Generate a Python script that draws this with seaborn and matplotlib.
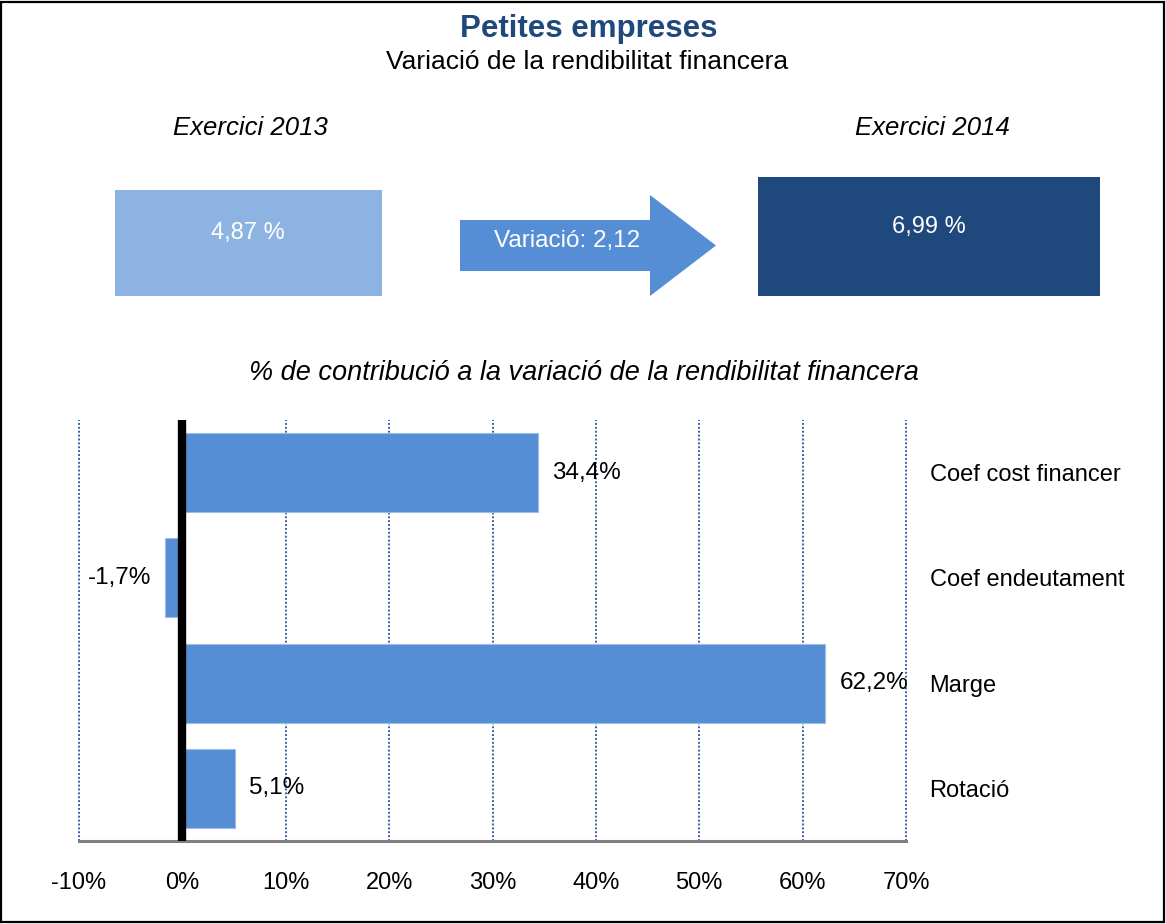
import matplotlib
matplotlib.use("Agg")
import matplotlib.pyplot as plt
from matplotlib.patches import Rectangle, Polygon
import pandas as pd
import seaborn as sns

# 数据
categories = ["Coef cost financer", "Coef endeutament", "Marge", "Rotació"]
contribucio = [34.4, -1.7, 62.2, 5.1]
x_ticks = [-10, 0, 10, 20, 30, 40, 50, 60, 70]
rend_2013 = 4.87
rend_2014 = 6.99
variacio = 2.12

BAR_COLOR = "#558ED5"
LIGHT = "#8DB3E2"
DARK = "#1F497D"
GRID = "#3A64A8"

sns.set_theme(style="white")
plt.rcParams["font.family"] = ["Liberation Sans", "DejaVu Sans"]
plt.rcParams["text.color"] = "black"

W, H = 1166, 924
fig = plt.figure(figsize=(W / 100, H / 100), dpi=100)


def fx(px):
    return px / W


def fy(py):
    return 1 - py / H


# 外框
fig.patches.append(Rectangle((fx(1), fy(922)), fx(1163), 920 / H, transform=fig.transFigure,
                             fill=False, edgecolor="black", linewidth=1.6))

# 标题
fig.text(fx(589), fy(29), "Petites empreses", ha="center", va="center",
         fontsize=22.5, fontweight="bold", color=DARK)
fig.text(fx(587), fy(62), "Variació de la rendibilitat financera", ha="center", va="center",
         fontsize=19, color="black")
fig.text(fx(250), fy(128), "Exercici 2013", ha="center", va="center",
         fontsize=18.5, style="italic")
fig.text(fx(932), fy(128), "Exercici 2014", ha="center", va="center",
         fontsize=18.5, style="italic")

# 两个方框和箭头
fig.patches.append(Rectangle((fx(115), fy(296)), fx(267), 106 / H, transform=fig.transFigure,
                             facecolor=LIGHT, edgecolor="none"))
fig.text(fx(248), fy(233), f"{rend_2013:.2f} %".replace(".", ","), ha="center", va="center",
         fontsize=17, color="white")
fig.patches.append(Rectangle((fx(758), fy(296)), fx(342), 119 / H, transform=fig.transFigure,
                             facecolor=DARK, edgecolor="none"))
fig.text(fx(929), fy(227), f"{rend_2014:.2f} %".replace(".", ","), ha="center", va="center",
         fontsize=17, color="white")
arrow_px = [(460, 220), (650, 220), (650, 195), (716, 245.5), (650, 296), (650, 271), (460, 271)]
fig.patches.append(Polygon([(fx(x), fy(y)) for x, y in arrow_px], closed=True,
                           transform=fig.transFigure, facecolor=BAR_COLOR, edgecolor="none"))
fig.text(fx(567), fy(241), f"Variació: {variacio:.2f}".replace(".", ","), ha="center",
         va="center", fontsize=17.5, color="white")

fig.text(fx(584), fy(373), "% de contribució a la variació de la rendibilitat financera",
         ha="center", va="center", fontsize=19.5, style="italic")

# 条形图
ax = fig.add_axes([fx(79), fy(841), fx(906 - 79), (841 - 420) / H])
df = pd.DataFrame({"cat": categories, "val": contribucio})
sns.barplot(data=df, x="val", y="cat", orient="h", color=BAR_COLOR, saturation=1,
            width=0.75, edgecolor="#9DBCE6", linewidth=0.8, ax=ax, zorder=3)
ax.set_xlim(x_ticks[0], x_ticks[-1])
ax.set_ylim(len(categories) - 0.5, -0.5)
ax.set_xticks(x_ticks)
ax.set_xticklabels([f"{t}%" for t in x_ticks])
ax.grid(axis="x", linestyle=(0, (1, 1)), color=GRID, linewidth=1.4)
for gl in ax.get_xgridlines():
    gl.set_clip_on(False)
ax.axvline(0, color="black", linewidth=6, zorder=4)

for s in ["top", "left", "right"]:
    ax.spines[s].set_visible(False)
ax.spines["bottom"].set_color("#808080")
ax.spines["bottom"].set_linewidth(2.2)

ax.yaxis.tick_right()
ax.tick_params(axis="y", length=0, pad=17, labelsize=17, labelcolor="black")
ax.tick_params(axis="x", length=0, pad=22, labelsize=17, labelcolor="black")
ax.set_xlabel("")
ax.set_ylabel("")

labels = [f"{v:.1f}%".replace(".", ",") for v in contribucio]
ax.bar_label(ax.containers[0], labels=labels, padding=10, fontsize=17.5, color="black")

fig.savefig("out.png", dpi=100)
